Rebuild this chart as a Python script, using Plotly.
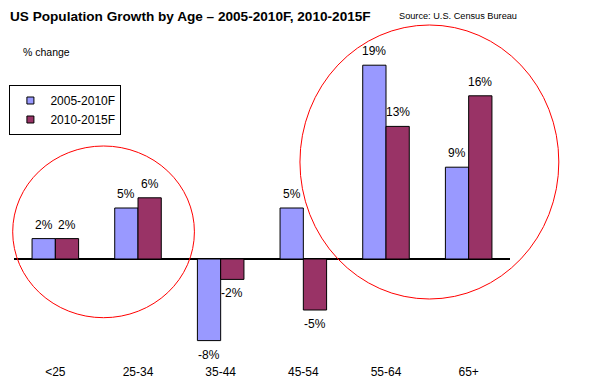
import plotly.graph_objects as go

categories = ["<25", "25-34", "35-44", "45-54", "55-64", "65+"]
series_names = ["2005-2010F", "2010-2015F"]
values_2005_2010 = [2, 5, -8, 5, 19, 9]
values_2010_2015 = [2, 6, -2, -5, 13, 16]
colors = ["#9999FF", "#993366"]

W, H = 607, 385
L, R, T, B = 13.6, 96.6, 55, 24
PW, PH = W - L - R, H - T - B

def px_x(p):
    return (p - L) / PW

def px_y(p):
    return (H - B - p) / PH

FONT = "Arial, Liberation Sans, sans-serif"

fig = go.Figure()
series = [values_2005_2010, values_2010_2015]
for name, vals, col in zip(series_names, series, colors):
    fig.add_trace(go.Bar(
        x=categories, y=vals, name=name, showlegend=False,
        marker=dict(color=col, line=dict(color="black", width=1)),
    ))
# legend entries with small square swatches
for name, col in zip(series_names, colors):
    fig.add_trace(go.Scatter(
        x=[None], y=[None], mode="markers", name=name,
        marker=dict(symbol="square", size=7, color=col, line=dict(color="black", width=1)),
    ))

annotations = []
bar_px = PW / len(categories) * 0.2815
for i, vals in enumerate(series):
    shift = (-0.5 if i == 0 else 0.5) * bar_px
    for c, v in zip(categories, vals):
        annotations.append(dict(
            x=c, y=v, text=f"{v}%", showarrow=False, xshift=shift,
            yshift=14 if v >= 0 else -14, yanchor="middle",
            font=dict(family=FONT, size=12, color="black"),
        ))

annotations += [
    dict(xref="paper", yref="paper", x=px_x(8), y=px_y(16), xanchor="left", yanchor="middle",
         text="<b>US Population Growth by Age – 2005-2010F, 2010-2015F</b>", showarrow=False,
         font=dict(family=FONT, size=13.6, color="black")),
    dict(xref="paper", yref="paper", x=px_x(397), y=px_y(16), xanchor="left", yanchor="middle",
         text="Source: U.S. Census Bureau", showarrow=False,
         font=dict(family=FONT, size=9.2, color="black")),
    dict(xref="paper", yref="paper", x=px_x(21), y=px_y(52), xanchor="left", yanchor="middle",
         text="% change", showarrow=False,
         font=dict(family=FONT, size=10.5, color="black")),
]

shapes = [
    dict(type="circle", xref="paper", yref="paper",
         x0=px_x(12.3), x1=px_x(194.3), y0=px_y(317.7), y1=px_y(146),
         line=dict(color="red", width=1)),
    dict(type="circle", xref="paper", yref="paper",
         x0=px_x(300), x1=px_x(559.3), y0=px_y(299), y1=px_y(25),
         line=dict(color="red", width=1)),
]

fig.update_layout(
    width=W, height=H,
    margin=dict(l=L, r=R, t=T, b=B, pad=0, autoexpand=False),
    paper_bgcolor="white", plot_bgcolor="white",
    barmode="group", bargap=0.437, bargroupgap=0,
    font=dict(family=FONT, size=12, color="black"),
    xaxis=dict(showgrid=False, showline=False, ticks="", tickfont=dict(size=12),
               range=[-0.5, 5.5], automargin=False, ticklabelstandoff=2),
    yaxis=dict(range=[-10, 20], showgrid=False, showticklabels=False, ticks="",
               zeroline=True, zerolinecolor="black", zerolinewidth=2, showline=False,
               automargin=False),
    legend=dict(x=px_x(9), y=px_y(85), xanchor="left", yanchor="top",
                bordercolor="black", borderwidth=1, bgcolor="white",
                font=dict(family=FONT, size=12), itemwidth=30, tracegroupgap=0),
    annotations=annotations,
    shapes=shapes,
)

fig.write_html("out.html", config={"displayModeBar": False},
               post_script="document.body.style.margin='0';")
